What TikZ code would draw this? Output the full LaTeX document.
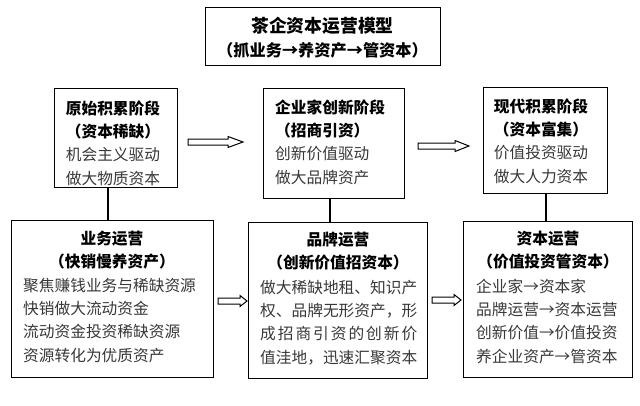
\documentclass[tikz,border=0pt]{standalone}
\usepackage{fontspec}
\setmainfont{Noto Sans CJK SC}
\newcommand\tor{\makebox[1em]{→}}
\tikzset{
  box/.style={draw, line width=1.1pt, inner sep=0pt, anchor=north west},
  txt/.style={inner sep=0pt, font=\fontsize{15.7}{23.4}\selectfont, text=black!78},
  hd/.style={inner sep=0pt, font=\bfseries\fontsize{15.7}{23.4}\selectfont, align=center, anchor=base},
  harrow/.style={draw, line width=1pt, fill=white, line join=miter},
  conn/.style={line width=1.1pt}
}
\newcommand\hollowarrow[4]{\draw[harrow] (#1,#4-3) -- (#2,#4-3) -- (#2,#4-5.5) -- (#3,#4) -- (#2,#4+5.5) -- (#2,#4+3) -- (#1,#4+3) -- cycle;}
\begin{document}
\begin{tikzpicture}[x=1pt,y=-1pt]
\fill[white] (0,0) rectangle (640,405);
\useasboundingbox (0,0) rectangle (640,405);
% title
\node[box, minimum width=235pt, minimum height=58pt] (t) at (205,7) {};
\node[inner sep=0pt, anchor=base, font=\bfseries\fontsize{17.8}{20}\selectfont] (t1) at (322.5,32) {茶企资本运营模型};
\node[inner sep=0pt, anchor=base, font=\bfseries\fontsize{16.2}{20}\selectfont] (t2) at (322.5,56) {（抓业务\tor 养资产\tor 管资本）};
% top boxes
\node[box, minimum width=123pt, minimum height=99pt] (b1) at (54,88) {};
\node[txt, text width=123pt, align=center, anchor=base] (b1t) at (113,114)
  {\textbf{\textcolor{black}{原始积累阶段}}\\\textbf{\textcolor{black}{（资本稀缺）}}\\机会主义驱动\\做大物质资本};
\node[box, minimum width=141pt, minimum height=110pt] (b2) at (263,88) {};
\node[txt, text width=135pt, align=left, anchor=base west] (b2t) at (275,113)
  {\textbf{\textcolor{black}{企业家创新阶段}}\\\textbf{\textcolor{black}{（招商引资）}}\\创新价值驱动\\做大品牌资产};
\node[box, minimum width=124pt, minimum height=106pt] (b3) at (483,87) {};
\node[txt, text width=124pt, align=center, anchor=base] (b3t) at (541,112)
  {\textbf{\textcolor{black}{现代积累阶段}}\\\textbf{\textcolor{black}{（资本富集）}}\\价值投资驱动\\做大人力资本};
% bottom boxes
\node[box, minimum width=202pt, minimum height=157pt] (b4) at (11,220) {};
\node[hd, text width=200pt] (b4h) at (112,244) {业务运营\\（快销慢养资产）};
\node[txt, text width=190pt, align=left, anchor=base west] (b4t) at (23,291)
  {聚焦赚钱业务与稀缺资源\\快销做大流动资金\\流动资金投资稀缺资源\\资源转化为优质资产};
\node[box, minimum width=179pt, minimum height=156pt] (b5) at (248,222) {};
\node[hd, text width=178pt] (b5h) at (338,245) {品牌运营\\（创新价值招资本）};
\node[txt, text width=160pt, align=left, anchor=base west] (b5t) at (260,293)
  {做大稀缺地租、知识产\\权、品牌无形资产，形\\\makebox[157pt][s]{成\hfill 招\hfill 商\hfill 引\hfill 资\hfill 的\hfill 创\hfill 新\hfill 价}\\值洼地，迅速汇聚资本};
\node[box, minimum width=169pt, minimum height=156pt] (b6) at (463,221) {};
\node[hd, text width=168pt] (b6h) at (548,244) {资本运营\\（价值投资管资本）};
\node[txt, text width=160pt, align=left, anchor=base west] (b6t) at (476,292)
  {企业家\tor 资本家\\品牌运营\tor 资本运营\\创新价值\tor 价值投资\\养企业资产\tor 管资本};
% vertical connectors
\coordinate (c1) at (108,0);
\coordinate (c2) at (330,0);
\coordinate (c3) at (546,0);
\draw[conn] (c1 |- b1.south) -- (c1 |- b4.north);
\draw[conn] (c2 |- b2.south) -- (c2 |- b5.north);
\draw[conn] (c3 |- b3.south) -- (c3 |- b6.north);
% hollow arrows
\hollowarrow{188}{228}{243}{142}
\hollowarrow{418}{455}{469}{146}
\hollowarrow{218}{240}{247}{301}
\hollowarrow{432}{454}{461}{300}
\end{tikzpicture}
\end{document}
